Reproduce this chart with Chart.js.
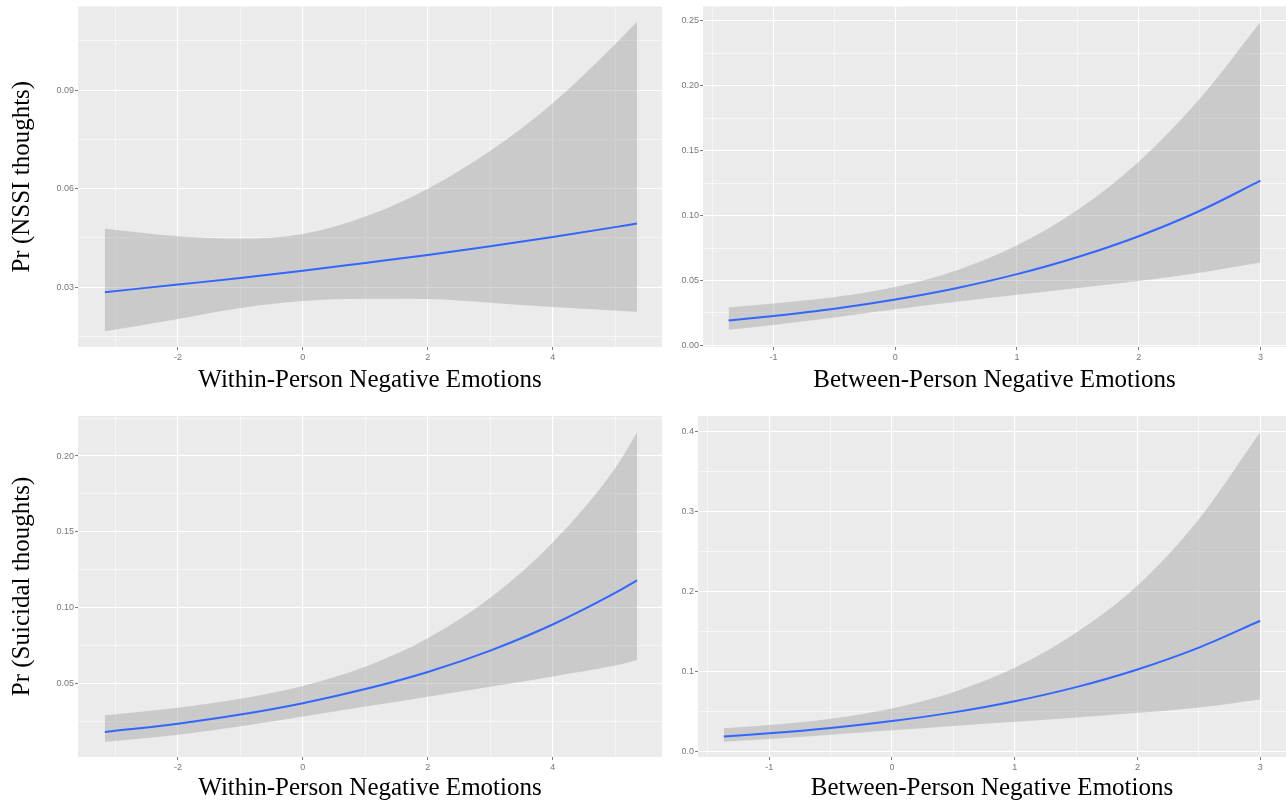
<!DOCTYPE html>
<html><head><meta charset="utf-8">
<script src="https://cdn.jsdelivr.net/npm/chart.js@4.4.1/dist/chart.umd.min.js"></script>
<style>
html,body{margin:0;padding:0;background:#fff;}
#wrap{position:relative;width:1286px;height:808px;overflow:hidden;background:#fff;}
canvas{position:absolute;}
</style></head><body><div id="wrap">
<canvas id="c1" width="662" height="400" style="left:0px;top:0px"></canvas>
<canvas id="c2" width="624" height="400" style="left:662px;top:0px"></canvas>
<canvas id="c3" width="662" height="408" style="left:0px;top:400px"></canvas>
<canvas id="c4" width="624" height="408" style="left:662px;top:400px"></canvas>
</div>
<script>
// ---- x values (predictor grid) ----
const withinX  = [-3.17, -2, -1, 0, 1, 2, 3, 4, 5, 5.35];
const betweenX = [-1.37, -1, -0.5, 0, 0.5, 1, 1.5, 2, 2.5, 3];

// ---- NSSI thoughts, within-person ----
const nssiWithinFit   = [0.0285, 0.0308, 0.0328, 0.0350, 0.0374, 0.0398, 0.0425, 0.0453, 0.0483, 0.0494];
const nssiWithinUpper = [0.0478, 0.0455, 0.0448, 0.0462, 0.0515, 0.0600, 0.0715, 0.0860, 0.1040, 0.1108];
const nssiWithinLower = [0.0166, 0.0203, 0.0237, 0.0258, 0.0265, 0.0264, 0.0253, 0.0240, 0.0229, 0.0225];

// ---- NSSI thoughts, between-person ----
const nssiBetweenFit   = [0.0192, 0.0227, 0.0283, 0.0354, 0.0441, 0.0549, 0.0681, 0.0841, 0.1035, 0.1268];
const nssiBetweenUpper = [0.0292, 0.0323, 0.0373, 0.0450, 0.0577, 0.0771, 0.1045, 0.1415, 0.1897, 0.2490];
const nssiBetweenLower = [0.0120, 0.0158, 0.0215, 0.0278, 0.0336, 0.0390, 0.0442, 0.0496, 0.0560, 0.0638];

// ---- Suicidal thoughts, within-person ----
const suicWithinFit   = [0.0180, 0.0235, 0.0295, 0.0370, 0.0463, 0.0576, 0.0717, 0.0889, 0.1097, 0.1180];
const suicWithinUpper = [0.0290, 0.0340, 0.0399, 0.0484, 0.0611, 0.0799, 0.1065, 0.1430, 0.1920, 0.2155];
const suicWithinLower = [0.0115, 0.0162, 0.0217, 0.0282, 0.0348, 0.0413, 0.0479, 0.0546, 0.0618, 0.0655];

// ---- Suicidal thoughts, between-person ----
const suicBetweenFit   = [0.0183, 0.0222, 0.0289, 0.0375, 0.0484, 0.0624, 0.0800, 0.1021, 0.1294, 0.1630];
const suicBetweenUpper = [0.0287, 0.0327, 0.0405, 0.0534, 0.0737, 0.1042, 0.1480, 0.2070, 0.2900, 0.3990];
const suicBetweenLower = [0.0118, 0.0151, 0.0205, 0.0261, 0.0315, 0.0366, 0.0420, 0.0478, 0.0545, 0.0645];

// ---- ticks ----
const withinXMajor  = [-2, 0, 2, 4];
const withinXLabels = ['-2', '0', '2', '4'];
const withinXMinor  = [-3, -1, 1, 3, 5];
const betweenXMajor  = [-1, 0, 1, 2, 3];
const betweenXLabels = ['-1', '0', '1', '2', '3'];
const betweenXMinor  = [-1.5, -0.5, 0.5, 1.5, 2.5];

const nssiWithinYMajor  = [0.03, 0.06, 0.09];
const nssiWithinYLabels = ['0.03', '0.06', '0.09'];
const nssiWithinYMinor  = [0.015, 0.045, 0.075, 0.105];
const nssiBetweenYMajor  = [0, 0.05, 0.10, 0.15, 0.20, 0.25];
const nssiBetweenYLabels = ['0.00', '0.05', '0.10', '0.15', '0.20', '0.25'];
const nssiBetweenYMinor  = [0.025, 0.075, 0.125, 0.175, 0.225];
const suicWithinYMajor  = [0.05, 0.10, 0.15, 0.20];
const suicWithinYLabels = ['0.05', '0.10', '0.15', '0.20'];
const suicWithinYMinor  = [0.025, 0.075, 0.125, 0.175, 0.225];
const suicBetweenYMajor  = [0, 0.1, 0.2, 0.3, 0.4];
const suicBetweenYLabels = ['0.0', '0.1', '0.2', '0.3', '0.4'];
const suicBetweenYMinor  = [0.05, 0.15, 0.25, 0.35];

// ---- text ----
const xTitleWithin  = 'Within-Person Negative Emotions';
const xTitleBetween = 'Between-Person Negative Emotions';
const yTitleNSSI = 'Pr (NSSI thoughts)';
const yTitleSuic = 'Pr (Suicidal thoughts)';

const panelBg = {
  id: 'panelBg',
  beforeDraw(chart) {
    const {ctx, chartArea: a} = chart;
    ctx.save();
    ctx.fillStyle = '#EBEBEB';
    ctx.fillRect(a.left, a.top, a.right - a.left, a.bottom - a.top);
    ctx.restore();
  }
};

function near(a, b) { return Math.abs(a - b) < 1e-9; }
function isMajor(v, major) { return major.some(m => near(m, v)); }
function labelFor(v, major, labels) {
  const i = major.findIndex(m => near(m, v));
  return i >= 0 ? labels[i] : '';
}
function pts(xs, ys) { return xs.map((x, i) => ({x: x, y: ys[i]})); }

function axis(o) {
  const all = o.major.concat(o.minor).sort((a, b) => a - b);
  const horiz = o.horiz;
  const ax = {
    type: 'linear',
    min: o.min, max: o.max,
    bounds: 'data',
    afterBuildTicks: s => { s.ticks = all.map(v => ({value: v})); },
    afterFit: s => { if (horiz) s.height = o.size; else s.width = o.size; },
    ticks: {
      autoSkip: false, maxRotation: 0, minRotation: 0,
      padding: horiz ? 2 : 1,
      color: '#777777',
      font: {family: 'Liberation Sans, Arial, sans-serif', size: 9},
      callback: v => labelFor(v, o.major, o.labels)
    },
    grid: {
      color: '#ffffff',
      lineWidth: c => (c.tick && isMajor(c.tick.value, o.major)) ? 1.1 : 0.55,
      drawTicks: true,
      tickLength: 3,
      tickWidth: 1,
      tickColor: c => (c.tick && isMajor(c.tick.value, o.major)) ? '#777777' : 'rgba(0,0,0,0)'
    },
    border: {display: false},
    title: {display: false}
  };
  if (o.title) {
    ax.title = {
      display: true, text: o.title, color: '#000',
      font: {family: 'Liberation Serif, Times New Roman, serif', size: 25},
      padding: horiz ? {top: 0, bottom: 5} : {top: 7, bottom: 0}
    };
  }
  return ax;
}

function makeChart(id, d) {
  new Chart(document.getElementById(id), {
    type: 'line',
    data: {
      datasets: [
        {data: pts(d.xs, d.fit), borderColor: '#3366FF', borderWidth: 2, pointRadius: 0,
         fill: false, cubicInterpolationMode: 'monotone'},
        {data: pts(d.xs, d.lower), borderColor: 'rgba(0,0,0,0)', borderWidth: 0, pointRadius: 0,
         fill: false, cubicInterpolationMode: 'monotone'},
        {data: pts(d.xs, d.upper), borderColor: 'rgba(0,0,0,0)', borderWidth: 0, pointRadius: 0,
         fill: 1, backgroundColor: 'rgba(153,153,153,0.4)', cubicInterpolationMode: 'monotone'}
      ]
    },
    options: {
      responsive: false, animation: false, devicePixelRatio: 1,
      layout: {autoPadding: false, padding: {top: d.padTop, left: 0, right: 0, bottom: 0}},
      plugins: {legend: {display: false}, tooltip: {enabled: false}},
      events: [],
      scales: {
        x: axis({horiz: true, min: d.xmin, max: d.xmax, major: d.xMajor, minor: d.xMinor,
                 labels: d.xLabels, size: d.xSize, title: d.xTitle}),
        y: axis({horiz: false, min: d.ymin, max: d.ymax, major: d.yMajor, minor: d.yMinor,
                 labels: d.yLabels, size: d.ySize, title: d.yTitle})
      }
    },
    plugins: [panelBg]
  });
}

makeChart('c1', {xs: withinX, fit: nssiWithinFit, upper: nssiWithinUpper, lower: nssiWithinLower,
  xmin: -3.60, xmax: 5.75, xMajor: withinXMajor, xMinor: withinXMinor, xLabels: withinXLabels,
  ymin: 0.0118, ymax: 0.1155, yMajor: nssiWithinYMajor, yMinor: nssiWithinYMinor, yLabels: nssiWithinYLabels,
  xSize: 53, ySize: 78, padTop: 5, xTitle: xTitleWithin, yTitle: yTitleNSSI});

makeChart('c2', {xs: betweenX, fit: nssiBetweenFit, upper: nssiBetweenUpper, lower: nssiBetweenLower,
  xmin: -1.58, xmax: 3.21, xMajor: betweenXMajor, xMinor: betweenXMinor, xLabels: betweenXLabels,
  ymin: -0.0012, ymax: 0.261, yMajor: nssiBetweenYMajor, yMinor: nssiBetweenYMinor, yLabels: nssiBetweenYLabels,
  xSize: 53, ySize: 41, padTop: 5, xTitle: xTitleBetween, yTitle: null});

makeChart('c3', {xs: withinX, fit: suicWithinFit, upper: suicWithinUpper, lower: suicWithinLower,
  xmin: -3.60, xmax: 5.75, xMajor: withinXMajor, xMinor: withinXMinor, xLabels: withinXLabels,
  ymin: 0.0015, ymax: 0.2264, yMajor: suicWithinYMajor, yMinor: suicWithinYMinor, yLabels: suicWithinYLabels,
  xSize: 51, ySize: 78, padTop: 16, xTitle: xTitleWithin, yTitle: yTitleSuic});

makeChart('c4', {xs: betweenX, fit: suicBetweenFit, upper: suicBetweenUpper, lower: suicBetweenLower,
  xmin: -1.58, xmax: 3.21, xMajor: betweenXMajor, xMinor: betweenXMinor, xLabels: betweenXLabels,
  ymin: -0.0074, ymax: 0.419, yMajor: suicBetweenYMajor, yMinor: suicBetweenYMinor, yLabels: suicBetweenYLabels,
  xSize: 51, ySize: 36, padTop: 16, xTitle: xTitleBetween, yTitle: null});
</script>
</body></html>
